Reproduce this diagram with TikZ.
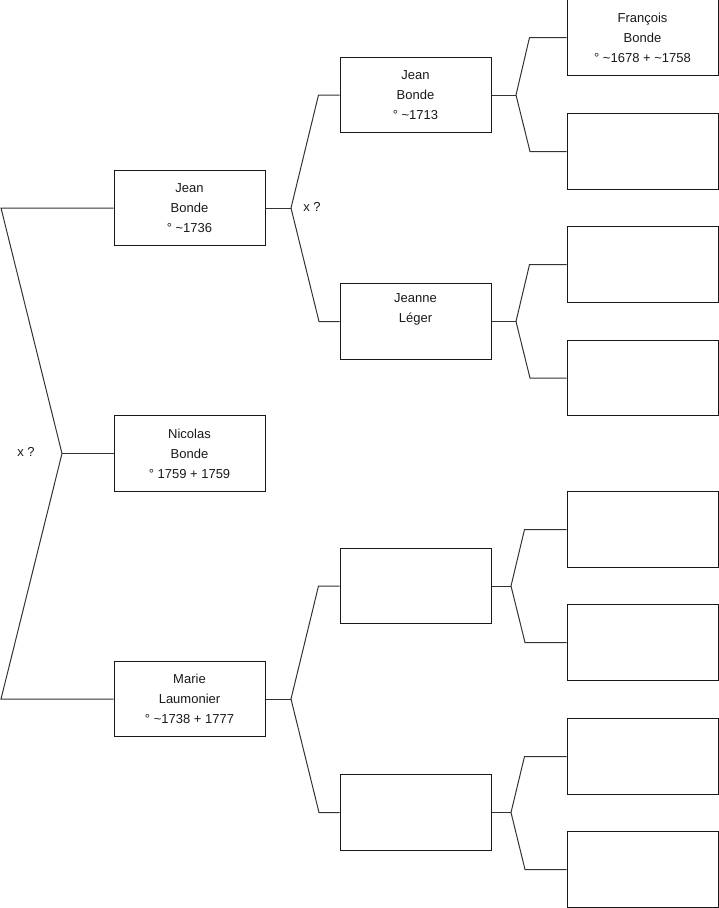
\documentclass[tikz,border=0pt]{standalone}
\usepackage{fontspec}
\setmainfont{Liberation Sans}
\begin{document}
\begin{tikzpicture}[x=1pt,y=-1pt,
  person/.style={draw=black!90, line width=1pt, minimum width=151pt, minimum height=75.5pt,
    inner sep=0pt, align=center, font=\fontsize{13}{20}\selectfont, text=black!90},
  link/.style={draw=black!80, line width=1pt},
  couplemark/.style={font=\fontsize{13}{15}\selectfont, text=black!90, inner sep=0pt}]
\useasboundingbox (0,0) rectangle (719,908);
% generation 0
\node[person] (p0) at (189.5,453.5) {Nicolas\\Bonde\\° 1759 + 1759};
% generation 1
\node[person] (p1) at (189.5,208) {Jean\\Bonde\\° \textasciitilde1736};
\node[person] (p2) at (189.5,699) {Marie\\Laumonier\\° \textasciitilde1738 + 1777};
% generation 2
\node[person] (p3) at (415.5,95) {Jean\\Bonde\\° \textasciitilde1713};
\node[person] (p4) at (415.5,321.5) {Jeanne\\Léger\\\strut};
\node[person] (p5) at (415.5,586) {};
\node[person] (p6) at (415.5,812.5) {};
% generation 3
\node[person] (p7)  at (642.5,37.5) {François\\Bonde\\° \textasciitilde1678 + \textasciitilde1758};
\node[person] (p8)  at (642.5,151.5) {};
\node[person] (p9)  at (642.5,264.5) {};
\node[person] (p10) at (642.5,378) {};
\node[person] (p11) at (642.5,529.5) {};
\node[person] (p12) at (642.5,642.5) {};
\node[person] (p13) at (642.5,756.5) {};
\node[person] (p14) at (642.5,869.5) {};
% couple marks
\node[couplemark] (m0) at (26,452) {x ?};
\node[couplemark] (m1) at (312,207) {x ?};
% connectors gen 0 -> 1
\coordinate (j0) at (62,453.5);
\coordinate (a0) at (1,208);
\coordinate (b0) at (1,699);
\draw[link] (p1.west) -- (a0) -- (j0) -- (b0) -- (p2.west);
\draw[link] (j0) -- (p0.west);
% gen 1 -> 2
\coordinate (j1) at (291,208);
\draw[link] (p1.east) -- (j1);
\draw[link] (p3.west) -- ++(-21,0) -- (j1) -- ++(28,113.5) -- (p4.west);
\coordinate (j2) at (291,699);
\draw[link] (p2.east) -- (j2);
\draw[link] (p5.west) -- ++(-21,0) -- (j2) -- ++(28,113.5) -- (p6.west);
% gen 2 -> 3
\coordinate (j3) at (516,95);
\draw[link] (p3.east) -- (j3);
\draw[link] (p7.west) -- ++(-37,0) -- (j3) -- (530,151.5) -- (p8.west);
\coordinate (j4) at (516,321.5);
\draw[link] (p4.east) -- (j4);
\draw[link] (p9.west) -- ++(-37,0) -- (j4) -- (530,378) -- (p10.west);
\coordinate (j5) at (511,586);
\draw[link] (p5.east) -- (j5);
\draw[link] (p11.west) -- ++(-42,0) -- (j5) -- (525,642.5) -- (p12.west);
\coordinate (j6) at (511,812.5);
\draw[link] (p6.east) -- (j6);
\draw[link] (p13.west) -- ++(-42,0) -- (j6) -- (525,869.5) -- (p14.west);
\end{tikzpicture}
\end{document}
